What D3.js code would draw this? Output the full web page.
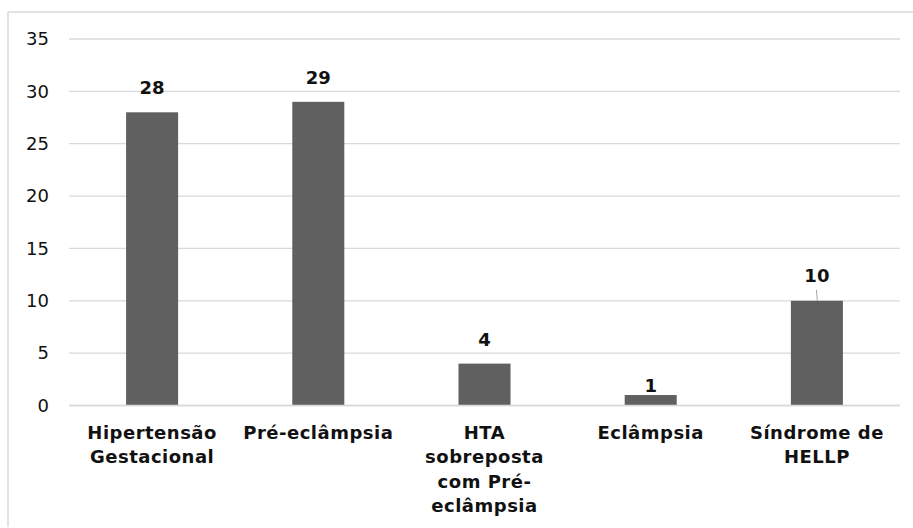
<!DOCTYPE html>
<html>
<head>
<meta charset="utf-8">
<script src="https://cdn.jsdelivr.net/npm/d3@7"></script>
<style>
  html, body { margin: 0; padding: 0; background: #fff; }
  svg { display: block; }
</style>
</head>
<body>
<svg id="chart" width="913" height="528"></svg>
<script>
// Hypertensive disorders of pregnancy: number of cases per category
const categories = [
  ["Hipertensão", "Gestacional"],
  ["Pré-eclâmpsia"],
  ["HTA", "sobreposta", "com Pré-", "eclâmpsia"],
  ["Eclâmpsia"],
  ["Síndrome de", "HELLP"]
];
const values = [28, 29, 4, 1, 10];
const yTicks = [0, 5, 10, 15, 20, 25, 30, 35];
// gap between a bar top and its value label baseline
const labelGap = [18, 18, 18, 3, 19];

const svg = d3.select("#chart");
const W = 913, H = 528;
const plot = { left: 69, right: 900, top: 39, bottom: 405.5 };

// outer frame (top and left edges visible)
svg.append("line").attr("x1", 8).attr("x2", W).attr("y1", 12).attr("y2", 12)
  .attr("stroke", "#d9d9d9").attr("stroke-width", 1.5);
svg.append("line").attr("x1", 8).attr("x2", 8).attr("y1", 12).attr("y2", 527)
  .attr("stroke", "#d9d9d9").attr("stroke-width", 1.5);

const x = d3.scaleBand()
  .domain(d3.range(categories.length))
  .range([plot.left, plot.right])
  .paddingInner(0.687).paddingOuter(0.3435);

const y = d3.scaleLinear().domain([0, 35]).range([plot.bottom, plot.top]);

// gridlines
svg.append("g").selectAll("line").data(yTicks).join("line")
  .attr("x1", plot.left).attr("x2", plot.right)
  .attr("y1", d => y(d)).attr("y2", d => y(d))
  .attr("stroke", "#d9d9d9").attr("stroke-width", 1.3);

// y axis labels
const yAxis = d3.axisLeft(y).tickValues(yTicks).tickSize(0).tickPadding(0);
const gy = svg.append("g").attr("transform", `translate(${plot.left - 20},0)`).call(yAxis);
gy.select(".domain").remove();
gy.selectAll("text")
  .attr("font-family", "DejaVu Sans, sans-serif")
  .attr("font-size", 18).attr("fill", "#111");

// bars
svg.append("g").selectAll("rect").data(values).join("rect")
  .attr("x", (d, i) => x(i)).attr("width", x.bandwidth())
  .attr("y", d => y(d)).attr("height", d => y(0) - y(d))
  .attr("fill", "#606060");

// baseline
svg.append("line").attr("x1", plot.left).attr("x2", plot.right)
  .attr("y1", y(0)).attr("y2", y(0)).attr("stroke", "#d9d9d9").attr("stroke-width", 1.3);

// value labels
svg.append("g").selectAll("text").data(values).join("text")
  .attr("x", (d, i) => x(i) + x.bandwidth() / 2)
  .attr("y", (d, i) => y(d) - labelGap[i])
  .attr("text-anchor", "middle")
  .attr("font-family", "DejaVu Sans, sans-serif")
  .attr("font-weight", "bold").attr("font-size", 18)
  .attr("fill", "#111")
  .text(d => d);

// leader line for the last label
svg.append("line")
  .attr("x1", x(4) + x.bandwidth() / 2 - 0.5).attr("x2", x(4) + x.bandwidth() / 2 + 0.5)
  .attr("y1", y(values[4]) - 11).attr("y2", y(values[4]))
  .attr("stroke", "#a6a6a6").attr("stroke-width", 1);

// category labels
const gx = svg.append("g");
categories.forEach((lines, i) => {
  const t = gx.append("text")
    .attr("x", x(i) + x.bandwidth() / 2)
    .attr("y", 439)
    .attr("text-anchor", "middle")
    .attr("font-family", "DejaVu Sans, sans-serif")
    .attr("font-weight", "bold").attr("font-size", 18)
    .attr("letter-spacing", 0.5)
    .attr("fill", "#111");
  lines.forEach((ln, k) => {
    t.append("tspan").attr("x", x(i) + x.bandwidth() / 2)
      .attr("dy", k === 0 ? 0 : 24.3).text(ln);
  });
});
</script>
</body>
</html>
